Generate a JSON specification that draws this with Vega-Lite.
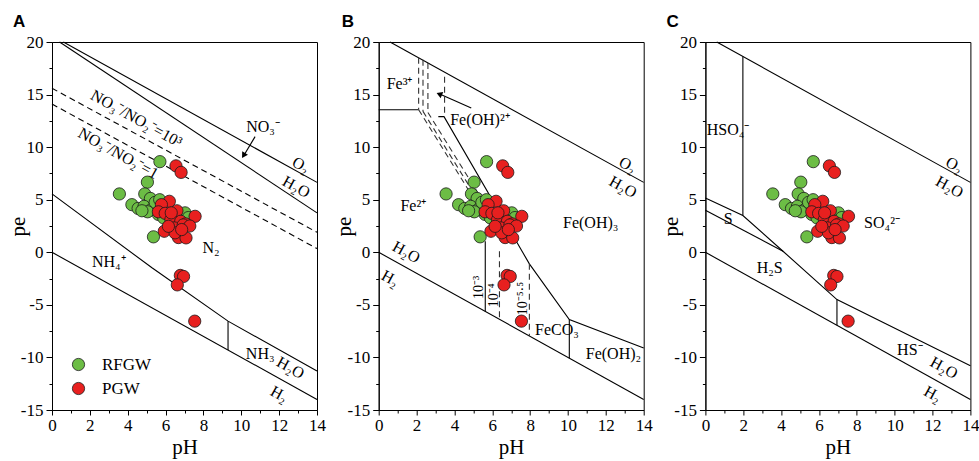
{
  "$schema": "https://vega.github.io/schema/vega-lite/v6.json",
  "padding": {"left": 6, "top": 12, "right": 5, "bottom": 2},
  "background": "white",
  "config": {
    "font": "Liberation Serif",
    "view": {"stroke": "black", "strokeWidth": 1},
    "axis": {"domainColor": "black", "domainWidth": 1, "tickColor": "black", "tickWidth": 1, "labelColor": "black", "titleColor": "black", "labelFont": "Liberation Serif", "titleFont": "Liberation Serif", "labelFontSize": 17, "titleFontSize": 21, "titleFontWeight": "normal", "grid": false, "labelFlush": false, "labelOverlap": false},
    "title": {"font": "Liberation Sans", "fontSize": 17, "fontWeight": "bold", "color": "black", "anchor": "start", "frame": "group", "baseline": "alphabetic", "offset": 2}
  },
  "datasets": {
    "pts": [
      {"grp": "RFGW", "pH": 5.7, "pe": 8.62},
      {"grp": "RFGW", "pH": 5.04, "pe": 6.67},
      {"grp": "RFGW", "pH": 3.56, "pe": 5.55},
      {"grp": "RFGW", "pH": 4.22, "pe": 4.53},
      {"grp": "RFGW", "pH": 4.55, "pe": 4.17},
      {"grp": "RFGW", "pH": 4.9, "pe": 5.55},
      {"grp": "RFGW", "pH": 5.2, "pe": 5.12},
      {"grp": "RFGW", "pH": 4.86, "pe": 4.37},
      {"grp": "RFGW", "pH": 5.25, "pe": 4.06},
      {"grp": "RFGW", "pH": 5.45, "pe": 4.75},
      {"grp": "RFGW", "pH": 5.62, "pe": 3.6},
      {"grp": "RFGW", "pH": 5.36, "pe": 1.47},
      {"grp": "RFGW", "pH": 5.05, "pe": 3.85},
      {"grp": "RFGW", "pH": 7.03, "pe": 3.75},
      {"grp": "RFGW", "pH": 5.9, "pe": 3.27},
      {"grp": "RFGW", "pH": 5.69, "pe": 5.0},
      {"grp": "RFGW", "pH": 4.75, "pe": 3.95},
      {"grp": "RFGW", "pH": 6.5, "pe": 3.6},
      {"grp": "RFGW", "pH": 7.2, "pe": 3.3},
      {"grp": "PGW", "pH": 6.55, "pe": 8.22},
      {"grp": "PGW", "pH": 6.82, "pe": 7.6},
      {"grp": "PGW", "pH": 6.2, "pe": 4.85},
      {"grp": "PGW", "pH": 5.78, "pe": 4.53},
      {"grp": "PGW", "pH": 5.62, "pe": 3.85},
      {"grp": "PGW", "pH": 5.98, "pe": 3.7},
      {"grp": "PGW", "pH": 6.6, "pe": 3.95},
      {"grp": "PGW", "pH": 7.56, "pe": 3.42},
      {"grp": "PGW", "pH": 6.28, "pe": 3.1},
      {"grp": "PGW", "pH": 6.8, "pe": 2.95},
      {"grp": "PGW", "pH": 7.06, "pe": 2.7},
      {"grp": "PGW", "pH": 5.93, "pe": 2.0},
      {"grp": "PGW", "pH": 6.45, "pe": 2.32},
      {"grp": "PGW", "pH": 6.68, "pe": 1.4},
      {"grp": "PGW", "pH": 7.08, "pe": 1.37},
      {"grp": "PGW", "pH": 6.93, "pe": 2.6},
      {"grp": "PGW", "pH": 6.5, "pe": 1.85},
      {"grp": "PGW", "pH": 6.15, "pe": 2.47},
      {"grp": "PGW", "pH": 7.28, "pe": 2.5},
      {"grp": "PGW", "pH": 6.85, "pe": 2.16},
      {"grp": "PGW", "pH": 6.3, "pe": 3.75},
      {"grp": "PGW", "pH": 6.78, "pe": -2.2},
      {"grp": "PGW", "pH": 6.95, "pe": -2.3},
      {"grp": "PGW", "pH": 6.62, "pe": -3.1},
      {"grp": "PGW", "pH": 7.54, "pe": -6.55}
    ],
    "lines": [
      {"p": "A", "id": "A1", "i": 0, "kind": "main", "pH": 0.6, "pe": 20},
      {"p": "A", "id": "A1", "i": 1, "kind": "main", "pH": 14, "pe": 6.65},
      {"p": "A", "id": "A2", "i": 0, "kind": "main", "pH": 0.4, "pe": 20},
      {"p": "A", "id": "A2", "i": 1, "kind": "main", "pH": 14, "pe": 3.75},
      {"p": "A", "id": "A3", "i": 0, "kind": "aux", "pH": 0, "pe": 15.6},
      {"p": "A", "id": "A3", "i": 1, "kind": "aux", "pH": 14, "pe": 1.9},
      {"p": "A", "id": "A4", "i": 0, "kind": "aux", "pH": 0, "pe": 14.1},
      {"p": "A", "id": "A4", "i": 1, "kind": "aux", "pH": 14, "pe": 0.35},
      {"p": "A", "id": "A5", "i": 0, "kind": "main", "pH": 0, "pe": 5.56},
      {"p": "A", "id": "A5", "i": 1, "kind": "main", "pH": 5.3, "pe": -1.5},
      {"p": "A", "id": "A5", "i": 2, "kind": "main", "pH": 9.3, "pe": -6.55},
      {"p": "A", "id": "A5", "i": 3, "kind": "main", "pH": 14, "pe": -11.3},
      {"p": "A", "id": "A6", "i": 0, "kind": "main", "pH": 9.3, "pe": -6.55},
      {"p": "A", "id": "A6", "i": 1, "kind": "main", "pH": 9.3, "pe": -9.3},
      {"p": "A", "id": "A7", "i": 0, "kind": "main", "pH": 0, "pe": 0},
      {"p": "A", "id": "A7", "i": 1, "kind": "main", "pH": 14, "pe": -14},
      {"p": "B", "id": "B1", "i": 0, "kind": "main", "pH": 0.6, "pe": 20},
      {"p": "B", "id": "B1", "i": 1, "kind": "main", "pH": 14, "pe": 6.65},
      {"p": "B", "id": "B2", "i": 0, "kind": "main", "pH": 0, "pe": 0},
      {"p": "B", "id": "B2", "i": 1, "kind": "main", "pH": 14, "pe": -14},
      {"p": "B", "id": "B3", "i": 0, "kind": "main", "pH": 0, "pe": 13.56},
      {"p": "B", "id": "B3", "i": 1, "kind": "main", "pH": 2.11, "pe": 13.56},
      {"p": "B", "id": "B4", "i": 0, "kind": "main", "pH": 3.15, "pe": 12.9},
      {"p": "B", "id": "B4", "i": 1, "kind": "main", "pH": 3.45, "pe": 12.9},
      {"p": "B", "id": "B4", "i": 2, "kind": "main", "pH": 7.96, "pe": -1.1},
      {"p": "B", "id": "B4", "i": 3, "kind": "main", "pH": 10.07, "pe": -6.4},
      {"p": "B", "id": "B4", "i": 4, "kind": "main", "pH": 14, "pe": -9.1},
      {"p": "B", "id": "B5", "i": 0, "kind": "main", "pH": 10.07, "pe": -6.4},
      {"p": "B", "id": "B5", "i": 1, "kind": "main", "pH": 10.07, "pe": -10.07},
      {"p": "B", "id": "B6", "i": 0, "kind": "main", "pH": 5.63, "pe": 1.05},
      {"p": "B", "id": "B6", "i": 1, "kind": "main", "pH": 5.63, "pe": -5.63},
      {"p": "B", "id": "B7", "i": 0, "kind": "aux", "pH": 6.38, "pe": 0.1},
      {"p": "B", "id": "B7", "i": 1, "kind": "aux", "pH": 6.38, "pe": -6.38},
      {"p": "B", "id": "B8", "i": 0, "kind": "aux", "pH": 7.96, "pe": -1.1},
      {"p": "B", "id": "B8", "i": 1, "kind": "aux", "pH": 7.96, "pe": -7.96},
      {"p": "B", "id": "B9", "i": 0, "kind": "aux", "pH": 2.11, "pe": 18.5},
      {"p": "B", "id": "B9", "i": 1, "kind": "aux", "pH": 2.11, "pe": 13.56},
      {"p": "B", "id": "B10", "i": 0, "kind": "aux", "pH": 2.34, "pe": 18.3},
      {"p": "B", "id": "B10", "i": 1, "kind": "aux", "pH": 2.34, "pe": 13.4},
      {"p": "B", "id": "B11", "i": 0, "kind": "aux", "pH": 2.6, "pe": 18.0},
      {"p": "B", "id": "B11", "i": 1, "kind": "aux", "pH": 2.6, "pe": 13.3},
      {"p": "B", "id": "B12", "i": 0, "kind": "aux", "pH": 3.48, "pe": 16.7},
      {"p": "B", "id": "B12", "i": 1, "kind": "aux", "pH": 3.48, "pe": 12.9},
      {"p": "B", "id": "B13", "i": 0, "kind": "aux", "pH": 2.11, "pe": 13.56},
      {"p": "B", "id": "B13", "i": 1, "kind": "aux", "pH": 5.6, "pe": 3.44},
      {"p": "B", "id": "B14", "i": 0, "kind": "aux", "pH": 2.34, "pe": 13.4},
      {"p": "B", "id": "B14", "i": 1, "kind": "aux", "pH": 5.85, "pe": 3.2},
      {"p": "B", "id": "B15", "i": 0, "kind": "aux", "pH": 2.6, "pe": 13.3},
      {"p": "B", "id": "B15", "i": 1, "kind": "aux", "pH": 6.1, "pe": 3.15},
      {"p": "C", "id": "C1", "i": 0, "kind": "main", "pH": 0.6, "pe": 20},
      {"p": "C", "id": "C1", "i": 1, "kind": "main", "pH": 14, "pe": 6.65},
      {"p": "C", "id": "C2", "i": 0, "kind": "main", "pH": 0, "pe": 0},
      {"p": "C", "id": "C2", "i": 1, "kind": "main", "pH": 14, "pe": -14},
      {"p": "C", "id": "C3", "i": 0, "kind": "main", "pH": 1.98, "pe": 18.62},
      {"p": "C", "id": "C3", "i": 1, "kind": "main", "pH": 1.98, "pe": 3.5},
      {"p": "C", "id": "C4", "i": 0, "kind": "main", "pH": 0, "pe": 5.17},
      {"p": "C", "id": "C4", "i": 1, "kind": "main", "pH": 1.98, "pe": 3.5},
      {"p": "C", "id": "C4", "i": 2, "kind": "main", "pH": 4.1, "pe": 0.1},
      {"p": "C", "id": "C4", "i": 3, "kind": "main", "pH": 6.95, "pe": -4.5},
      {"p": "C", "id": "C4", "i": 4, "kind": "main", "pH": 14, "pe": -10.8},
      {"p": "C", "id": "C5", "i": 0, "kind": "main", "pH": 0, "pe": 4.0},
      {"p": "C", "id": "C5", "i": 1, "kind": "main", "pH": 4.1, "pe": 0.1},
      {"p": "C", "id": "C6", "i": 0, "kind": "main", "pH": 6.95, "pe": -4.5},
      {"p": "C", "id": "C6", "i": 1, "kind": "main", "pH": 6.95, "pe": -6.95}
    ],
    "arrows": [
      {"p": "A", "pH": 10.73, "pe": 11.0, "pH2": 10.15, "pe2": 9.25},
      {"p": "B", "pH": 4.89, "pe": 13.72, "pH2": 3.25, "pe2": 15.02}
    ],
    "heads": [
      {"p": "A", "pH": 10.12, "pe": 9.2},
      {"p": "B", "pH": 3.2, "pe": 15.05}
    ],
    "labels": [
      {"p": "A", "kind": "h", "pH": 11.15, "pe": 11.94, "txt": "NO₃⁻"},
      {"p": "A", "kind": "h", "pH": 8.4, "pe": 0.4, "txt": "N₂"},
      {"p": "A", "kind": "h", "pH": 3.0, "pe": -0.9, "txt": "NH₄⁺"},
      {"p": "A", "kind": "h", "pH": 11.0, "pe": -9.7, "txt": "NH₃"},
      {"p": "A", "kind": "r", "pH": 13.15, "pe": 8.3, "txt": "O₂"},
      {"p": "A", "kind": "r", "pH": 12.9, "pe": 6.2, "txt": "H₂O"},
      {"p": "A", "kind": "r", "pH": 4.46, "pe": 12.7, "txt": "NO₃⁻/NO₂⁻=10³"},
      {"p": "A", "kind": "r", "pH": 3.5, "pe": 9.4, "txt": "NO₃⁻/NO₂⁻=1"},
      {"p": "A", "kind": "r", "pH": 12.6, "pe": -11.0, "txt": "H₂O"},
      {"p": "A", "kind": "r", "pH": 12.0, "pe": -13.5, "txt": "H₂"},
      {"p": "B", "kind": "h", "pH": 1.1, "pe": 16.0, "txt": "Fe³⁺"},
      {"p": "B", "kind": "h", "pH": 5.35, "pe": 12.6, "txt": "Fe(OH)²⁺"},
      {"p": "B", "kind": "h", "pH": 1.83, "pe": 4.44, "txt": "Fe²⁺"},
      {"p": "B", "kind": "h", "pH": 11.2, "pe": 2.8, "txt": "Fe(OH)₃"},
      {"p": "B", "kind": "h", "pH": 9.42, "pe": -7.35, "txt": "FeCO₃"},
      {"p": "B", "kind": "h", "pH": 12.4, "pe": -9.7, "txt": "Fe(OH)₂"},
      {"p": "B", "kind": "r", "pH": 13.15, "pe": 8.3, "txt": "O₂"},
      {"p": "B", "kind": "r", "pH": 12.9, "pe": 6.2, "txt": "H₂O"},
      {"p": "B", "kind": "r", "pH": 1.45, "pe": 0.0, "txt": "H₂O"},
      {"p": "B", "kind": "r", "pH": 0.6, "pe": -2.5, "txt": "H₂"},
      {"p": "B", "kind": "v", "pH": 5.3, "pe": -3.35, "txt": "10⁻³"},
      {"p": "B", "kind": "v", "pH": 6.1, "pe": -4.1, "txt": "10⁻⁴"},
      {"p": "B", "kind": "v", "pH": 7.6, "pe": -4.4, "txt": "10⁻⁵·⁵"},
      {"p": "C", "kind": "h", "pH": 1.2, "pe": 11.6, "txt": "HSO₄⁻"},
      {"p": "C", "kind": "h", "pH": 9.33, "pe": 2.8, "txt": "SO₄²⁻"},
      {"p": "C", "kind": "h", "pH": 1.2, "pe": 3.2, "txt": "S"},
      {"p": "C", "kind": "h", "pH": 3.4, "pe": -1.45, "txt": "H₂S"},
      {"p": "C", "kind": "h", "pH": 10.8, "pe": -9.25, "txt": "HS⁻"},
      {"p": "C", "kind": "r", "pH": 13.15, "pe": 8.3, "txt": "O₂"},
      {"p": "C", "kind": "r", "pH": 12.9, "pe": 6.2, "txt": "H₂O"},
      {"p": "C", "kind": "r", "pH": 12.6, "pe": -11.0, "txt": "H₂O"},
      {"p": "C", "kind": "r", "pH": 12.0, "pe": -13.5, "txt": "H₂"}
    ]
  },
  "bounds": "flush",
  "spacing": 61.7,
  "resolve": {"legend": {"color": "independent"}},
  "hconcat": [
    {
      "width": 265, "height": 368,
      "title": {"text": "A", "dx": -39},
      "encoding": {
        "x": {"field": "pH", "type": "quantitative", "scale": {"domain": [0, 14], "nice": false, "zero": false},
          "axis": {"values": [0,1,2,3,4,5,6,7,8,9,10,11,12,13,14], "labelExpr": "datum.value % 2 == 0 ? '' + datum.value : ''", "tickSize": {"condition": {"test": "datum.value % 2 == 0", "value": 5}, "value": 3}, "labelPadding": 2, "title": "pH", "titlePadding": 3}},
        "y": {"field": "pe", "type": "quantitative", "scale": {"domain": [-15, 20], "nice": false, "zero": false},
          "axis": {"values": [-15,-12.5,-10,-7.5,-5,-2.5,0,2.5,5,7.5,10,12.5,15,17.5,20], "labelExpr": "datum.value % 5 == 0 ? '' + datum.value : ''", "tickSize": {"condition": {"test": "datum.value % 5 == 0", "value": 6}, "value": 3}, "labelPadding": 3, "title": "pe", "titleX": -34, "titleY": 184, "titleAngle": 270, "titleAlign": "center", "titleBaseline": "middle"}}
      },
      "layer": [
        {"data": {"name": "lines"}, "transform": [{"filter": "datum.p == 'A' && datum.kind == 'main'"}], "mark": {"type": "line", "color": "black", "strokeWidth": 1.1}, "encoding": {"detail": {"field": "id"}, "order": {"field": "i"}}},
        {"data": {"name": "lines"}, "transform": [{"filter": "datum.p == 'A' && datum.kind == 'aux'"}], "mark": {"type": "line", "color": "black", "strokeWidth": 1.1, "strokeDash": [6, 4]}, "encoding": {"detail": {"field": "id"}, "order": {"field": "i"}}},
        {"data": {"name": "arrows"}, "transform": [{"filter": "datum.p == 'A'"}], "mark": {"type": "rule", "color": "black", "strokeWidth": 1.1}, "encoding": {"x2": {"field": "pH2"}, "y2": {"field": "pe2"}}},
        {"data": {"name": "heads"}, "transform": [{"filter": "datum.p == 'A'"}], "mark": {"type": "point", "shape": "triangle-up", "filled": true, "color": "black", "opacity": 1, "size": 45, "angle": 211}},
        {"data": {"name": "pts"}, "mark": {"type": "point", "filled": true, "size": 150, "opacity": 1, "stroke": "#1a1a1a", "strokeWidth": 0.8},
          "encoding": {"color": {"field": "grp", "type": "nominal", "scale": {"domain": ["RFGW", "PGW"], "range": ["#6cbd45", "#e8201f"]},
            "legend": {"orient": "none", "legendX": 18, "legendY": 314, "title": null, "labelFont": "Liberation Serif", "labelFontSize": 17, "labelColor": "black", "symbolSize": 150, "symbolType": "circle", "symbolStrokeColor": "#1a1a1a", "symbolStrokeWidth": 0.8, "symbolOpacity": 1, "labelOffset": 15, "rowPadding": 6}}}},
        {"data": {"name": "labels"}, "transform": [{"filter": "datum.p == 'A' && datum.kind == 'h'"}], "mark": {"type": "text", "font": "Liberation Serif", "fontSize": 16, "color": "black", "align": "center", "baseline": "middle"}, "encoding": {"text": {"field": "txt"}}},
        {"data": {"name": "labels"}, "transform": [{"filter": "datum.p == 'A' && datum.kind == 'r'"}], "mark": {"type": "text", "font": "Liberation Serif", "fontSize": 16, "color": "black", "align": "center", "baseline": "middle", "angle": 29}, "encoding": {"text": {"field": "txt"}}}
      ]
    },
    {
      "width": 265, "height": 368,
      "title": {"text": "B", "dx": -37},
      "encoding": {
        "x": {"field": "pH", "type": "quantitative", "scale": {"domain": [0, 14], "nice": false, "zero": false},
          "axis": {"values": [0,1,2,3,4,5,6,7,8,9,10,11,12,13,14], "labelExpr": "datum.value % 2 == 0 ? '' + datum.value : ''", "tickSize": {"condition": {"test": "datum.value % 2 == 0", "value": 5}, "value": 3}, "labelPadding": 2, "title": "pH", "titlePadding": 3}},
        "y": {"field": "pe", "type": "quantitative", "scale": {"domain": [-15, 20], "nice": false, "zero": false},
          "axis": {"values": [-15,-12.5,-10,-7.5,-5,-2.5,0,2.5,5,7.5,10,12.5,15,17.5,20], "labelExpr": "datum.value % 5 == 0 ? '' + datum.value : ''", "tickSize": {"condition": {"test": "datum.value % 5 == 0", "value": 6}, "value": 3}, "labelPadding": 3, "title": "pe", "titleX": -34, "titleY": 184, "titleAngle": 270, "titleAlign": "center", "titleBaseline": "middle"}}
      },
      "layer": [
        {"data": {"name": "lines"}, "transform": [{"filter": "datum.p == 'B' && datum.kind == 'main'"}], "mark": {"type": "line", "color": "black", "strokeWidth": 1.1}, "encoding": {"detail": {"field": "id"}, "order": {"field": "i"}}},
        {"data": {"name": "lines"}, "transform": [{"filter": "datum.p == 'B' && datum.kind == 'aux'"}], "mark": {"type": "line", "color": "#333333", "strokeWidth": 1.1, "strokeDash": [6, 4]}, "encoding": {"detail": {"field": "id"}, "order": {"field": "i"}}},
        {"data": {"name": "arrows"}, "transform": [{"filter": "datum.p == 'B'"}], "mark": {"type": "rule", "color": "black", "strokeWidth": 1.1}, "encoding": {"x2": {"field": "pH2"}, "y2": {"field": "pe2"}}},
        {"data": {"name": "heads"}, "transform": [{"filter": "datum.p == 'B'"}], "mark": {"type": "point", "shape": "triangle-up", "filled": true, "color": "black", "opacity": 1, "size": 45, "angle": 293}},
        {"data": {"name": "pts"}, "mark": {"type": "point", "filled": true, "size": 150, "opacity": 1, "stroke": "#1a1a1a", "strokeWidth": 0.8},
          "encoding": {"color": {"field": "grp", "type": "nominal", "scale": {"domain": ["RFGW", "PGW"], "range": ["#6cbd45", "#e8201f"]}, "legend": null}}},
        {"data": {"name": "labels"}, "transform": [{"filter": "datum.p == 'B' && datum.kind == 'h'"}], "mark": {"type": "text", "font": "Liberation Serif", "fontSize": 16, "color": "black", "align": "center", "baseline": "middle"}, "encoding": {"text": {"field": "txt"}}},
        {"data": {"name": "labels"}, "transform": [{"filter": "datum.p == 'B' && datum.kind == 'r'"}], "mark": {"type": "text", "font": "Liberation Serif", "fontSize": 16, "color": "black", "align": "center", "baseline": "middle", "angle": 29}, "encoding": {"text": {"field": "txt"}}},
        {"data": {"name": "labels"}, "transform": [{"filter": "datum.p == 'B' && datum.kind == 'v'"}], "mark": {"type": "text", "font": "Liberation Serif", "fontSize": 14, "color": "black", "align": "center", "baseline": "middle", "angle": 270}, "encoding": {"text": {"field": "txt"}}}
      ]
    },
    {
      "width": 265, "height": 368,
      "title": {"text": "C", "dx": -39},
      "encoding": {
        "x": {"field": "pH", "type": "quantitative", "scale": {"domain": [0, 14], "nice": false, "zero": false},
          "axis": {"values": [0,1,2,3,4,5,6,7,8,9,10,11,12,13,14], "labelExpr": "datum.value % 2 == 0 ? '' + datum.value : ''", "tickSize": {"condition": {"test": "datum.value % 2 == 0", "value": 5}, "value": 3}, "labelPadding": 2, "title": "pH", "titlePadding": 3}},
        "y": {"field": "pe", "type": "quantitative", "scale": {"domain": [-15, 20], "nice": false, "zero": false},
          "axis": {"values": [-15,-12.5,-10,-7.5,-5,-2.5,0,2.5,5,7.5,10,12.5,15,17.5,20], "labelExpr": "datum.value % 5 == 0 ? '' + datum.value : ''", "tickSize": {"condition": {"test": "datum.value % 5 == 0", "value": 6}, "value": 3}, "labelPadding": 3, "title": "pe", "titleX": -34, "titleY": 184, "titleAngle": 270, "titleAlign": "center", "titleBaseline": "middle"}}
      },
      "layer": [
        {"data": {"name": "lines"}, "transform": [{"filter": "datum.p == 'C' && datum.kind == 'main'"}], "mark": {"type": "line", "color": "black", "strokeWidth": 1.1}, "encoding": {"detail": {"field": "id"}, "order": {"field": "i"}}},
        {"data": {"name": "pts"}, "mark": {"type": "point", "filled": true, "size": 150, "opacity": 1, "stroke": "#1a1a1a", "strokeWidth": 0.8},
          "encoding": {"color": {"field": "grp", "type": "nominal", "scale": {"domain": ["RFGW", "PGW"], "range": ["#6cbd45", "#e8201f"]}, "legend": null}}},
        {"data": {"name": "labels"}, "transform": [{"filter": "datum.p == 'C' && datum.kind == 'h'"}], "mark": {"type": "text", "font": "Liberation Serif", "fontSize": 16, "color": "black", "align": "center", "baseline": "middle"}, "encoding": {"text": {"field": "txt"}}},
        {"data": {"name": "labels"}, "transform": [{"filter": "datum.p == 'C' && datum.kind == 'r'"}], "mark": {"type": "text", "font": "Liberation Serif", "fontSize": 16, "color": "black", "align": "center", "baseline": "middle", "angle": 29}, "encoding": {"text": {"field": "txt"}}}
      ]
    }
  ]
}
